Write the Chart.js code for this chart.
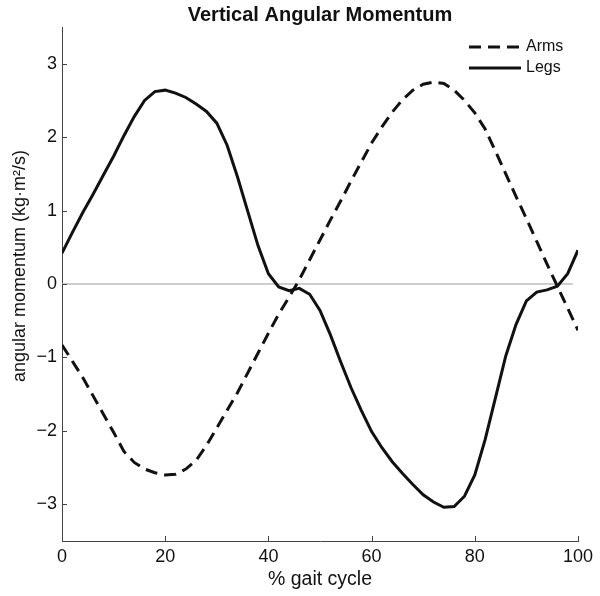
<!DOCTYPE html>
<html>
<head>
<meta charset="utf-8">
<script src="https://cdn.jsdelivr.net/npm/chart.js@4.4.1/dist/chart.umd.min.js"></script>
<style>
  html, body { margin: 0; padding: 0; background: #fff; }
  #wrap { width: 600px; height: 596px; }
</style>
</head>
<body>
<div id="wrap"><canvas id="c" width="600" height="596"></canvas></div>
<script>
// ---- data ----
const gaitPct = [0,2,4,6,8,10,12,14,16,18,20,22,24,26,28,30,32,34,36,38,40,42,44,46,48,50,52,54,56,58,60,62,64,66,68,70,72,74,76,78,80,82,84,86,88,90,92,94,96,98,100];
const armsValues = [-0.83,-1.05,-1.27,-1.52,-1.77,-2.02,-2.28,-2.43,-2.52,-2.57,-2.60,-2.59,-2.52,-2.40,-2.20,-1.96,-1.72,-1.48,-1.21,-0.94,-0.67,-0.41,-0.18,0.06,0.33,0.60,0.87,1.13,1.40,1.66,1.92,2.14,2.34,2.51,2.64,2.72,2.75,2.73,2.64,2.50,2.33,2.11,1.81,1.50,1.19,0.89,0.58,0.27,-0.03,-0.33,-0.63];
const legsValues = [0.42,0.70,0.97,1.22,1.48,1.74,2.02,2.28,2.50,2.62,2.64,2.60,2.54,2.45,2.35,2.19,1.89,1.46,0.99,0.52,0.14,-0.04,-0.09,-0.06,-0.14,-0.36,-0.69,-1.06,-1.41,-1.72,-2.01,-2.23,-2.42,-2.58,-2.73,-2.87,-2.97,-3.04,-3.03,-2.89,-2.60,-2.12,-1.55,-0.98,-0.55,-0.23,-0.11,-0.08,-0.03,0.14,0.46];
const zeroLineX = [0, 99];
const xTickValues = [0,20,40,60,80,100];
const yTickValues = [-3,-2,-1,0,1,2,3];
const seriesNames = ['Arms', 'Legs'];
const chartTitle = 'Vertical Angular Momentum';
const xTitle = '% gait cycle';
const yTitle = 'angular momentum (kg\u00b7m\u00b2/s)';

const FONT = '"Liberation Sans", Arial, Helvetica, sans-serif';
const toPts = (xs, ys) => xs.map((x, i) => ({x: x, y: ys[i]}));

// inward tick marks (MATLAB style)
const inwardTicks = {
  id: 'inwardTicks',
  afterDatasetsDraw(chart) {
    const ctx = chart.ctx, area = chart.chartArea;
    const xs = chart.scales.x, ys = chart.scales.y;
    ctx.save();
    ctx.strokeStyle = '#444';
    ctx.lineWidth = 1;
    ctx.beginPath();
    xs.ticks.forEach(t => {
      const px = Math.round(xs.getPixelForValue(t.value)) + 0.5;
      ctx.moveTo(px, area.bottom);
      ctx.lineTo(px, area.bottom - 5);
    });
    ys.ticks.forEach(t => {
      const py = Math.round(ys.getPixelForValue(t.value)) + 0.5;
      ctx.moveTo(area.left, py);
      ctx.lineTo(area.left + 5, py);
    });
    ctx.stroke();
    ctx.restore();
  }
};

// legend in top-right corner + rotated y title
const extras = {
  id: 'extras',
  afterDraw(chart) {
    const ctx = chart.ctx;
    ctx.save();
    const items = [chart.data.datasets[0], chart.data.datasets[1]];
    const rows = [47, 68];
    items.forEach((ds, i) => {
      ctx.beginPath();
      ctx.setLineDash(ds.borderDash || []);
      ctx.lineWidth = ds.borderWidth;
      ctx.strokeStyle = ds.borderColor;
      ctx.moveTo(469, rows[i]);
      ctx.lineTo(521, rows[i]);
      ctx.stroke();
      ctx.setLineDash([]);
      ctx.fillStyle = '#111';
      ctx.font = '16px ' + FONT;
      ctx.textAlign = 'left';
      ctx.textBaseline = 'middle';
      ctx.fillText(ds.label, 526, rows[i]);
    });
    ctx.translate(20, 266);
    ctx.rotate(-Math.PI / 2);
    ctx.font = '18px ' + FONT;
    ctx.fillStyle = '#111';
    ctx.textAlign = 'center';
    ctx.textBaseline = 'middle';
    ctx.fillText(yTitle, 0, 0);
    ctx.restore();
  }
};

new Chart(document.getElementById('c'), {
  type: 'line',
  data: {
    datasets: [
      { label: seriesNames[0], data: toPts(gaitPct, armsValues), borderColor: '#111', borderWidth: 3, borderDash: [12, 7], pointRadius: 0, tension: 0, fill: false, order: 1 },
      { label: seriesNames[1], data: toPts(gaitPct, legsValues), borderColor: '#111', borderWidth: 3, pointRadius: 0, tension: 0, fill: false, order: 0 },
      { label: 'zero', data: toPts(zeroLineX, zeroLineX.map(() => 0)), borderColor: '#bdbdbd', borderWidth: 1.5, pointRadius: 0, tension: 0, fill: false, order: 10 }
    ]
  },
  options: {
    responsive: false,
    animation: false,
    devicePixelRatio: 1,
    layout: { padding: { left: 0, right: 22, top: 0, bottom: 0 } },
    plugins: {
      legend: { display: false },
      tooltip: { enabled: false },
      title: {
        display: true, text: chartTitle, fullSize: false,
        color: '#111', font: { family: FONT, size: 20, weight: 'bold' },
        padding: { top: 3, bottom: 0 }
      }
    },
    scales: {
      x: {
        type: 'linear', min: 0, max: 100,
        afterFit(scale) { scale.height = 55; },
        afterBuildTicks(scale) { scale.ticks = xTickValues.map(v => ({value: v})); },
        grid: { display: true, drawOnChartArea: false, drawTicks: false },
        border: { display: true, color: '#444', width: 1 },
        ticks: { color: '#111', font: { family: FONT, size: 18 }, padding: 5, maxRotation: 0 },
        title: { display: true, text: xTitle, color: '#111', font: { family: FONT, size: 19.5 }, padding: { top: 0, bottom: 5 } }
      },
      y: {
        type: 'linear', min: -3.5, max: 3.5,
        afterFit(scale) { scale.width = 62; },
        afterBuildTicks(scale) { scale.ticks = yTickValues.map(v => ({value: v})); },
        grid: { display: true, drawOnChartArea: false, drawTicks: false },
        border: { display: true, color: '#444', width: 1 },
        ticks: { color: '#111', font: { family: FONT, size: 18 }, padding: 5,
                 callback: v => String(v).replace('-', '\u2212') }
      }
    }
  },
  plugins: [inwardTicks, extras]
});
</script>
</body>
</html>
